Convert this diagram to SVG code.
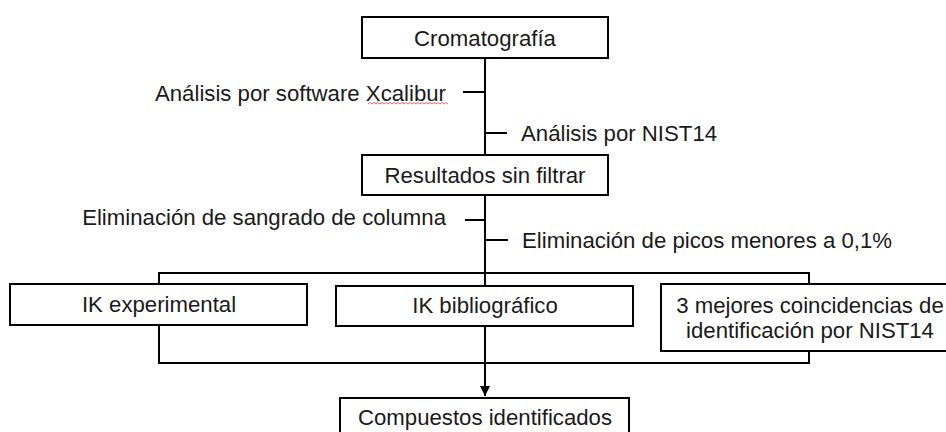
<svg xmlns="http://www.w3.org/2000/svg" width="946" height="432" viewBox="0 0 946 432">
<style>
.box{fill:#fff;stroke:#000;stroke-width:2}
.ln{fill:none;stroke:#000;stroke-width:2}
text{font-family:"Liberation Sans",Arial,sans-serif;font-size:22.2px;fill:#1a1a1a}
.c{text-anchor:middle}
.e{text-anchor:end}
</style>
<defs>
<marker id="arr" viewBox="0 0 10 10" refX="10" refY="5" markerWidth="5" markerHeight="6" markerUnits="strokeWidth" orient="auto">
<path d="M0,0 L10,5 L0,10 z" fill="#000"/>
</marker>
</defs>
<rect width="946" height="432" fill="#fff"/>
<g id="connectors">
<path class="ln" d="M485,58 V155"/>
<path class="ln" d="M463,92 H485"/>
<path class="ln" d="M485,133 H507"/>
<path class="ln" d="M485,195 V363"/>
<path class="ln" d="M465,220 H485"/>
<path class="ln" d="M485,240 H508"/>
<rect class="ln" x="159" y="273" width="650" height="90"/>
<path class="ln" d="M485,363 V396" marker-end="url(#arr)"/>
</g>
<g id="lbl-xcalibur"><text class="e" x="446" y="101">Análisis por software Xcalibur</text>
<polyline fill="none" stroke="#e04040" stroke-width="0.8" points="368,104 370,102.5 372,104 374,102.5 376,104 378,102.5 380,104 382,102.5 384,104 386,102.5 388,104 390,102.5 392,104 394,102.5 396,104 398,102.5 400,104 402,102.5 404,104 406,102.5 408,104 410,102.5 412,104 414,102.5 416,104 418,102.5 420,104 422,102.5 424,104 426,102.5 428,104 430,102.5 432,104 434,102.5 436,104 438,102.5 440,104 442,102.5 444,104 446,102.5 448,104"/></g>
<g id="lbl-nist"><text x="521" y="141">Análisis por NIST14</text></g>
<g id="lbl-sangrado"><text class="e" x="446" y="225">Eliminación de sangrado de columna</text></g>
<g id="lbl-picos"><text x="522" y="248">Eliminación de picos menores a 0,1%</text></g>
<g id="n-cromatografia">
<rect class="box" x="362" y="17" width="246" height="41"/>
<text class="c" x="485" y="46">Cromatografía</text>
</g>
<g id="n-resultados">
<rect class="box" x="362" y="155" width="246" height="40"/>
<text class="c" x="485" y="183">Resultados sin filtrar</text>
</g>
<g id="n-ik-exp">
<rect class="box" x="10" y="284" width="297" height="41"/>
<text class="c" x="159" y="312">IK experimental</text>
</g>
<g id="n-ik-bib">
<rect class="box" x="336" y="286" width="297" height="40"/>
<text class="c" x="485" y="313">IK bibliográfico</text>
</g>
<g id="n-mejores">
<rect class="box" x="661" y="284" width="295" height="67"/>
<text class="c" x="810" y="313">3 mejores coincidencias de</text>
<text class="c" x="810" y="338">identificación por NIST14</text>
</g>
<g id="n-compuestos">
<rect class="box" x="340" y="398" width="289" height="50"/>
<text class="c" x="485" y="425">Compuestos identificados</text>
</g>
</svg>
